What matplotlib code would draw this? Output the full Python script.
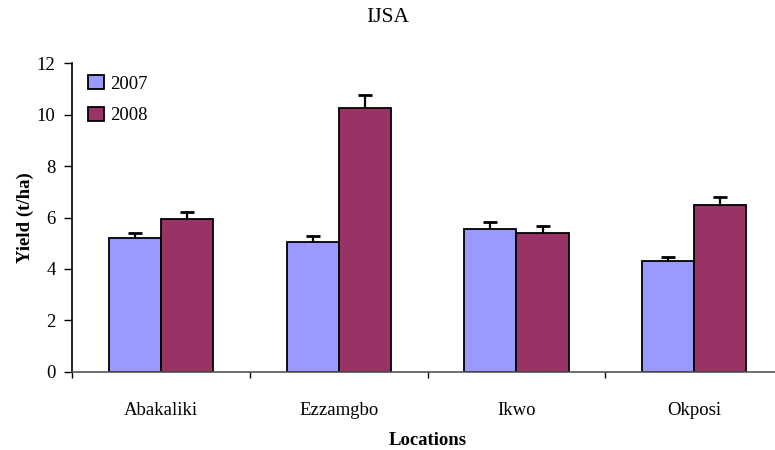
import numpy as np
import matplotlib
matplotlib.use('Agg')
import matplotlib.pyplot as plt

locations = ['Abakaliki', 'Ezzamgbo', 'Ikwo', 'Okposi']
years = ['2007', '2008']
yield_2007 = [5.19, 5.06, 5.55, 4.31]
yield_2008 = [5.95, 10.27, 5.41, 6.50]
err_2007 = [0.22, 0.23, 0.27, 0.15]
err_2008 = [0.27, 0.50, 0.27, 0.30]

colors = ['#9999FF', '#993366']

plt.rcParams['font.family'] = ['Liberation Serif', 'DejaVu Serif']

fig = plt.figure(figsize=(7.75, 4.5), dpi=100)
ax = fig.add_axes([72.3 / 775, 1 - 371.7 / 450, (783 - 72.3) / 775, (371.7 - 63.3) / 450])

x = np.arange(len(locations))
width = 0.293
series = [(yield_2007, err_2007), (yield_2008, err_2008)]
for i, (vals, errs) in enumerate(series):
    pos = x + (i - 0.5) * width
    ax.bar(pos, vals, width, color=colors[i], edgecolor='black', linewidth=1.3,
           label=years[i], zorder=2)
    _, caps, _ = ax.errorbar(pos, vals, yerr=[np.zeros(len(vals)), errs], fmt='none',
                             ecolor='black', elinewidth=1.6, capsize=5, capthick=2, zorder=3)
    caps[0].set_visible(False)

ax.set_xlim(-0.5, len(locations) - 0.5)
ax.set_ylim(0, 12)
ax.set_yticks(range(0, 13, 2))
ax.set_xticks(np.arange(len(locations) + 1) - 0.5, minor=False)
ax.set_xticklabels([])
ax.set_xticks(x, minor=True)
ax.set_xticklabels(locations, minor=True)
ax.tick_params(axis='x', which='minor', length=0, pad=22, labelsize=13.5)
ax.tick_params(axis='x', which='major', length=4.5, width=1, direction='out', color='black')
ax.tick_params(axis='y', length=6, width=1, direction='out', labelsize=13.5, pad=6)

for s in ['top', 'right']:
    ax.spines[s].set_visible(False)
ax.spines['left'].set_linewidth(1.2)
ax.spines['bottom'].set_linewidth(1.2)
ax.spines['bottom'].set_color('#555555')

ax.set_xlabel('Locations', fontsize=13.5, fontweight='bold', labelpad=9)
ax.set_ylabel('Yield (t/ha)', fontsize=13.5, fontweight='bold', labelpad=2)
fig.text(388 / 775, 1 - 17 / 450, 'IJSA', ha='center', va='center', fontsize=15.5)

leg = ax.legend(loc='upper left', bbox_to_anchor=(0.012, 0.985), frameon=False,
                fontsize=13.5, handlelength=0.85, handleheight=0.75, handletextpad=0.3,
                labelspacing=0.75, borderaxespad=0)

fig.savefig('out.png', dpi=100)
